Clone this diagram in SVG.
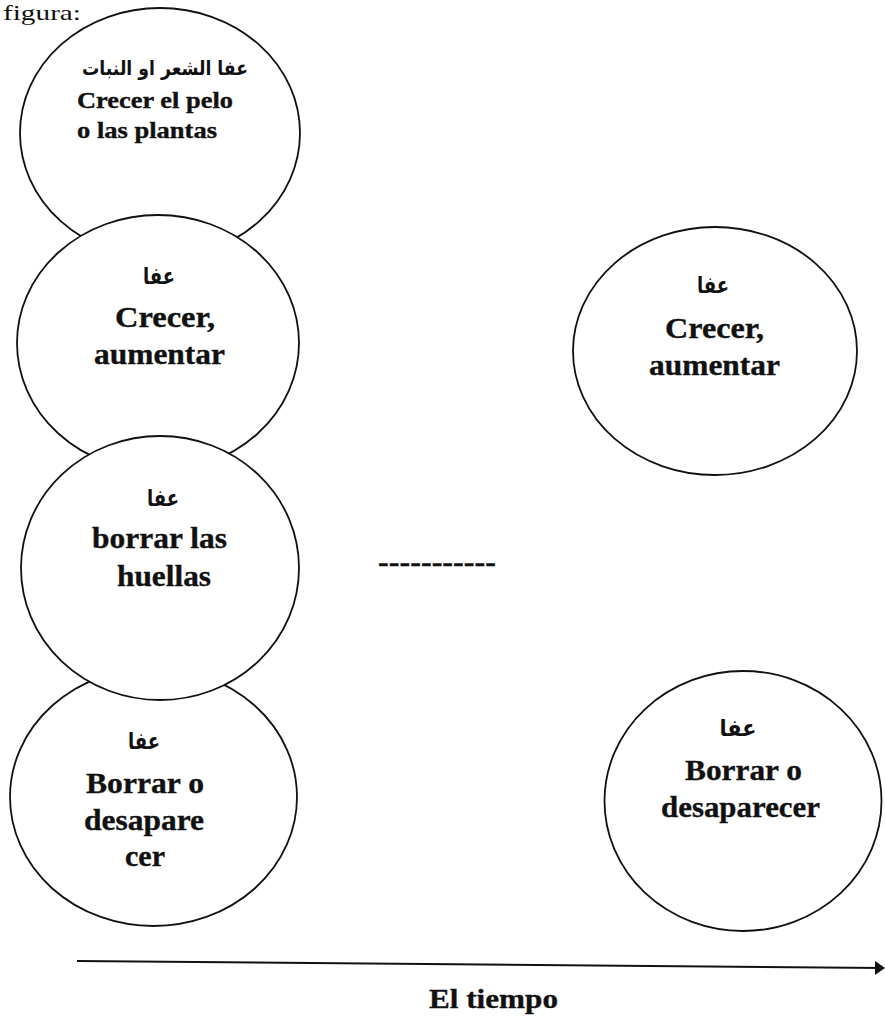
<svg xmlns="http://www.w3.org/2000/svg" width="885" height="1017" viewBox="0 0 885 1017">
<style>
.c{fill:#fff;stroke:#111;stroke-width:1.8}
.t{font-family:"Liberation Serif","Times New Roman",serif;font-weight:bold;fill:#111;stroke:#111;stroke-width:0.35}
.ar{font-family:"DejaVu Sans","Noto Sans",sans-serif;font-weight:bold;fill:#111;font-size:23px}
.big{font-size:30px}
.mid{font-size:23px}
</style>
<defs>
<marker id="ah" markerWidth="10" markerHeight="14" refX="9" refY="7" orient="auto" markerUnits="userSpaceOnUse">
<path d="M0,0 L10,7 L0,14 Z" fill="#111"/>
</marker>
</defs>
<rect width="885" height="1017" fill="#fff"/>
<text x="3" y="20" font-family="Liberation Serif, serif" font-size="22" fill="#111" textLength="78" lengthAdjust="spacingAndGlyphs">figura:</text>

<g id="node1">
<ellipse class="c" cx="160" cy="133" rx="140" ry="125"/>
<text class="ar" x="165" y="75" style="font-size:20px" text-anchor="middle" textLength="166" lengthAdjust="spacingAndGlyphs">عفا الشعر او النبات</text>
<text class="t mid" x="77" y="108" textLength="156" lengthAdjust="spacingAndGlyphs">Crecer el pelo</text>
<text class="t mid" x="77" y="138" textLength="140" lengthAdjust="spacingAndGlyphs">o las plantas</text>
</g>
<g id="node2">
<ellipse class="c" cx="158" cy="343" rx="141" ry="128"/>
<text class="ar" x="159" y="284" text-anchor="middle" textLength="32" lengthAdjust="spacingAndGlyphs">عفا</text>
<text class="t big" x="115" y="327" textLength="100" lengthAdjust="spacingAndGlyphs">Crecer,</text>
<text class="t big" x="94" y="364" textLength="131" lengthAdjust="spacingAndGlyphs">aumentar</text>
</g>
<g id="node4">
<ellipse class="c" cx="153.5" cy="797" rx="143.5" ry="129"/>
<text class="ar" x="144" y="749" text-anchor="middle" textLength="32" lengthAdjust="spacingAndGlyphs">عفا</text>
<text class="t big" x="86" y="793" textLength="118" lengthAdjust="spacingAndGlyphs">Borrar o</text>
<text class="t big" x="84" y="830" textLength="120" lengthAdjust="spacingAndGlyphs">desapare</text>
<text class="t big" x="125" y="866" textLength="40" lengthAdjust="spacingAndGlyphs">cer</text>
</g>
<g id="node3">
<ellipse class="c" cx="160" cy="568" rx="139" ry="132"/>
<text class="ar" x="163" y="506" text-anchor="middle" textLength="32" lengthAdjust="spacingAndGlyphs">عفا</text>
<text class="t big" x="92" y="548" textLength="135" lengthAdjust="spacingAndGlyphs">borrar las</text>
<text class="t big" x="117" y="586" textLength="94" lengthAdjust="spacingAndGlyphs">huellas</text>
</g>
<g id="node5">
<ellipse class="c" cx="715" cy="351" rx="142" ry="124"/>
<text class="ar" x="713" y="293" text-anchor="middle" textLength="32" lengthAdjust="spacingAndGlyphs">عفا</text>
<text class="t big" x="665" y="338" textLength="99" lengthAdjust="spacingAndGlyphs">Crecer,</text>
<text class="t big" x="649" y="375" textLength="131" lengthAdjust="spacingAndGlyphs">aumentar</text>
</g>
<g id="node6">
<ellipse class="c" cx="743" cy="801" rx="138.5" ry="130"/>
<text class="ar" x="738" y="736" text-anchor="middle" textLength="37" lengthAdjust="spacingAndGlyphs">عفا</text>
<text class="t big" x="685" y="780" textLength="117" lengthAdjust="spacingAndGlyphs">Borrar o</text>
<text class="t big" x="661" y="817" textLength="159" lengthAdjust="spacingAndGlyphs">desaparecer</text>
</g>
<g id="gap">
<text class="t" x="378" y="572" font-size="30" textLength="118" lengthAdjust="spacingAndGlyphs">-----------</text>
</g>
<g id="connectors">
<line x1="77" y1="961" x2="884" y2="968" stroke="#111" stroke-width="2" marker-end="url(#ah)"/>
</g>
<text class="t" x="429" y="1008" font-size="28" textLength="129" lengthAdjust="spacingAndGlyphs">El tiempo</text>
</svg>
